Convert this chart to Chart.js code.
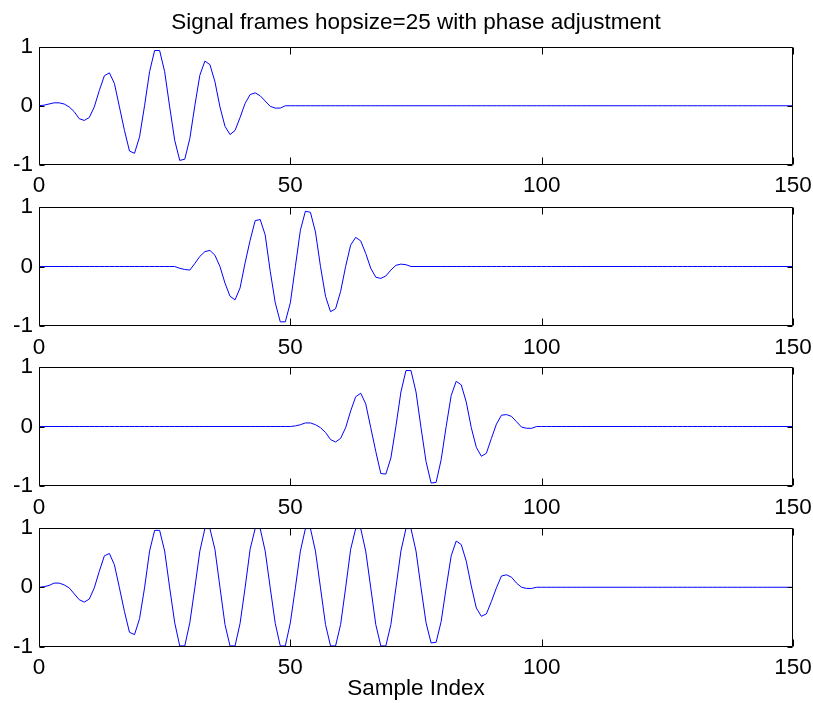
<!DOCTYPE html>
<html>
<head>
<meta charset="utf-8">
<title>Signal frames hopsize=25 with phase adjustment</title>
<script src="https://cdn.jsdelivr.net/npm/chart.js@4.4.1/dist/chart.umd.min.js"></script>
<style>
  html, body { margin: 0; padding: 0; background: #fff; }
  #figure { position: relative; width: 813px; height: 711px; }
  #figure canvas { position: absolute; left: 0; top: 0; }
</style>
</head>
<body>
<div id="figure">
  <canvas id="frame-1" width="813" height="711"></canvas>
  <canvas id="frame-2" width="813" height="711"></canvas>
  <canvas id="frame-3" width="813" height="711"></canvas>
  <canvas id="frame-sum" width="813" height="711"></canvas>
</div>
<script>
/* ---------- Data ---------- */

const NUM_SAMPLES = 150;
const xTicks = [0, 50, 100, 150];
const yTicks = [-1, 0, 1];

// where each stored segment starts on the sample axis (hop size 25)
const frameStarts = [0, 25, 50, 0];

// frame 1, samples 0..50
const frame1 = [
  0, 0.01, 0.03, 0.05, 0.05, 0.03, -0.02, -0.1, -0.22, -0.25,
  -0.2, -0.02, 0.26, 0.51, 0.56, 0.38, -0.02, -0.42, -0.77, -0.81,
  -0.53, 0, 0.58, 0.94, 0.94, 0.58, -0.02, -0.59, -0.93, -0.91,
  -0.56, 0, 0.52, 0.76, 0.7, 0.41, -0.02, -0.35, -0.49, -0.42,
  -0.2, 0.04, 0.19, 0.22, 0.17, 0.08, -0.01, -0.04, -0.04, 0,
  0
];

// frame 2, samples 25..75
const frame2 = [
  0, 0, 0, -0.03, -0.05, -0.06, 0.05, 0.17, 0.25, 0.27,
  0.19, 0, -0.28, -0.5, -0.56, -0.36, 0.06, 0.44, 0.77, 0.79,
  0.53, -0.08, -0.61, -0.93, -0.93, -0.61, 0, 0.61, 0.93, 0.91,
  0.58, 0, -0.5, -0.76, -0.71, -0.42, 0, 0.36, 0.49, 0.43,
  0.22, -0.03, -0.18, -0.2, -0.16, -0.06, 0.02, 0.04, 0.03, 0,
  0
];

// frame 3, samples 50..100
const frame3 = [
  0, 0.01, 0.03, 0.06, 0.06, 0.03, -0.02, -0.1, -0.22, -0.26,
  -0.2, -0.02, 0.26, 0.5, 0.56, 0.38, -0.02, -0.42, -0.79, -0.8,
  -0.53, 0, 0.58, 0.94, 0.94, 0.58, -0.02, -0.59, -0.95, -0.94,
  -0.56, 0, 0.52, 0.76, 0.7, 0.41, -0.02, -0.35, -0.5, -0.45,
  -0.2, 0.04, 0.19, 0.2, 0.17, 0.08, -0.01, -0.03, -0.03, 0,
  0
];

// overlap-added output, samples 0..100
const frameSum = [
  0, 0.01, 0.03, 0.07, 0.07, 0.04, -0.01, -0.11, -0.21, -0.25,
  -0.2, -0.01, 0.27, 0.53, 0.57, 0.38, -0.01, -0.41, -0.76, -0.8,
  -0.53, -0.01, 0.61, 0.96, 0.96, 0.61, -0.01, -0.6, -0.99, -0.99,
  -0.6, -0.01, 0.61, 0.99, 0.99, 0.64, 0, -0.63, -0.99, -0.99,
  -0.61, -0.01, 0.64, 0.99, 0.99, 0.61, -0.01, -0.61, -0.99, -0.99,
  -0.6, -0.01, 0.61, 0.99, 0.99, 0.61, -0.01, -0.63, -0.99, -0.99,
  -0.63, -0.01, 0.64, 0.99, 0.99, 0.61, -0.01, -0.63, -0.99, -0.99,
  -0.63, -0.01, 0.61, 0.99, 0.99, 0.61, -0.01, -0.6, -0.94, -0.93,
  -0.58, -0.01, 0.53, 0.78, 0.72, 0.44, 0.02, -0.35, -0.49, -0.45,
  -0.24, -0.01, 0.19, 0.21, 0.17, 0.07, 0, -0.02, -0.02, 0,
  0
];

/* ---------- Layout ---------- */

const FONT = "'Liberation Sans', Arial, Helvetica, sans-serif";
const FONT_SIZE = 22.5;
const FIG_H = 711;
const AXIS_LEFT = 39;       // width reserved for y tick labels
const PAD_RIGHT = 20;       // chart area ends at x = 793
const plotTop = [47, 207, 367, 528];
const plotBottom = [164.5, 326, 486, 646.5];
const X_AXIS_H = 40;

// zero-pad a stored segment to the full 0..150 sample range
function toSeries(values, start) {
  const pts = [];
  for (let n = 0; n <= NUM_SAMPLES; n++) {
    const i = n - start;
    pts.push({ x: n, y: (i >= 0 && i < values.length) ? values[i] : 0 });
  }
  return pts;
}

// MATLAB-like axes: full box with inward tick marks on all four sides
const matlabBox = {
  id: 'matlabBox',
  afterDraw(chart) {
    const { ctx, chartArea: a, scales: { x, y } } = chart;
    const L = Math.round(a.left) + 0.5;
    const R = Math.round(a.right) - 0.5;
    const T = Math.round(a.top) + 0.5;
    const B = Math.round(a.bottom) - 0.5;
    ctx.save();
    ctx.strokeStyle = '#000';
    ctx.lineWidth = 1;
    ctx.beginPath();
    ctx.rect(L, T, R - L, B - T);
    xTicks.forEach((v) => {
      const px = Math.round(x.getPixelForValue(v)) + 0.5;
      ctx.moveTo(px, T); ctx.lineTo(px, T + 7);
      ctx.moveTo(px, B); ctx.lineTo(px, B - 7);
    });
    yTicks.forEach((v) => {
      const py = Math.round(y.getPixelForValue(v)) + 0.5;
      ctx.moveTo(L, py); ctx.lineTo(L + 5, py);
      ctx.moveTo(R, py); ctx.lineTo(R - 5, py);
    });
    ctx.stroke();
    ctx.restore();
  }
};

Chart.defaults.font.family = FONT;
Chart.defaults.font.size = FONT_SIZE;
Chart.defaults.color = '#000';

const canvasIds = ['frame-1', 'frame-2', 'frame-3', 'frame-sum'];
const segments = [frame1, frame2, frame3, frameSum];

canvasIds.forEach((id, k) => {
  const isFirst = k === 0;
  const isLast = k === canvasIds.length - 1;
  const xAxisH = isLast ? FIG_H - plotBottom[k] : X_AXIS_H;

  new Chart(document.getElementById(id), {
    type: 'line',
    data: {
      datasets: [{
        data: toSeries(segments[k], frameStarts[k]),
        borderColor: '#0000ff',
        borderWidth: 1,
        pointRadius: 0,
        tension: 0,
        fill: false
      }]
    },
    options: {
      responsive: false,
      animation: false,
      devicePixelRatio: 1,
      events: [],
      layout: {
        padding: {
          left: 0,
          right: PAD_RIGHT,
          top: isFirst ? 0 : plotTop[k],
          bottom: Math.max(FIG_H - plotBottom[k] - xAxisH, 0)
        }
      },
      plugins: {
        legend: { display: false },
        tooltip: { enabled: false },
        title: {
          display: isFirst,
          fullSize: false,   // centre over the axes, not the whole canvas
          text: 'Signal frames hopsize=25 with phase adjustment',
          color: '#000',
          font: { family: FONT, size: FONT_SIZE, weight: 'normal' },
          padding: { top: 9, bottom: plotTop[0] - 9 - FONT_SIZE * 1.2 }
        }
      },
      scales: {
        x: {
          type: 'linear',
          min: 0,
          max: NUM_SAMPLES,
          grid: { display: false, drawTicks: false },
          border: { display: false },
          ticks: {
            stepSize: 50,
            autoSkip: false,
            maxRotation: 0,
            padding: 8,
            color: '#000'
          },
          title: {
            display: isLast,
            text: 'Sample Index',
            color: '#000',
            font: { family: FONT, size: FONT_SIZE },
            padding: { top: 0, bottom: 9 }
          },
          afterFit(scale) {
            scale.height = xAxisH;
            // let the end labels hang into the figure margins like MATLAB does
            scale.paddingLeft = 0;
            scale.paddingRight = 0;
          }
        },
        y: {
          min: -1,
          max: 1,
          grid: { display: false, drawTicks: false },
          border: { display: false },
          ticks: {
            stepSize: 1,
            padding: 6,
            color: '#000'
          },
          afterFit(scale) {
            scale.width = AXIS_LEFT;
            scale.paddingTop = 0;
            scale.paddingBottom = 0;
          }
        }
      }
    },
    plugins: [matlabBox]
  });
});
</script>
</body>
</html>
